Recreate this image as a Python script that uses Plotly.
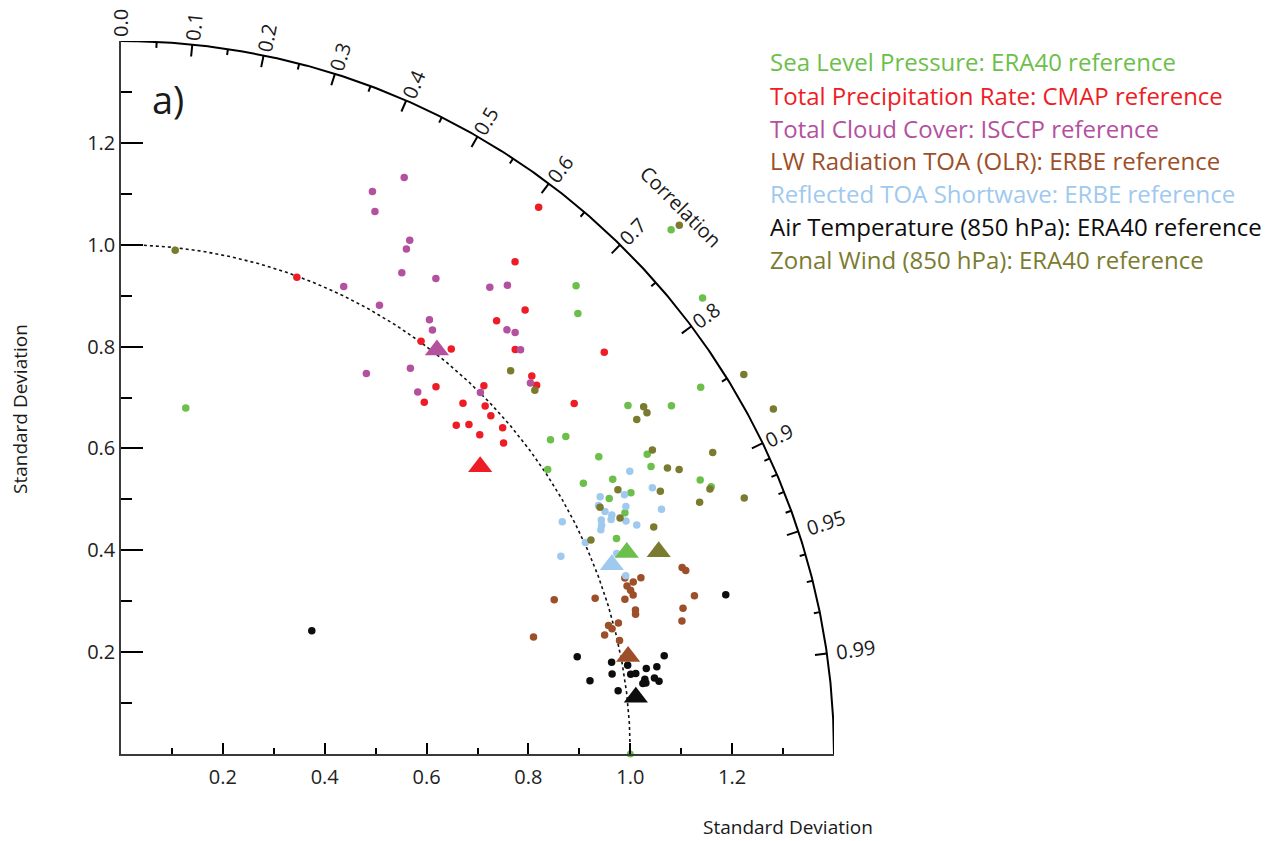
import numpy as np
import plotly.graph_objects as go

# ---------------------------------------------------------------------------
# Taylor diagram: normalised standard deviation vs. correlation with reference
# ---------------------------------------------------------------------------

# Sea Level Pressure (ERA40 reference)
slp_std = [0.691, 1.282, 1.246, 1.492, 1.451, 1.347, 1.208, 1.279, 1.045, 1.073, 1.105,
           1.189, 1.007, 1.184, 1.106, 1.052, 1.258, 1.272, 1.125, 1.082, 1.097, 1.061]
slp_corr = [0.184, 0.697, 0.720, 0.724, 0.787, 0.845, 0.824, 0.845, 0.807, 0.814, 0.849,
            0.869, 0.832, 0.879, 0.873, 0.863, 0.904, 0.911, 0.890, 0.886, 0.902, 0.917]

# Total Precipitation Rate (CMAP reference)
pr_std = [0.998, 1.002, 1.026, 0.950, 0.912, 1.351, 1.238, 1.179, 1.126, 1.109, 1.096, 1.091,
          1.015, 0.962, 0.989, 1.125, 0.984, 0.922, 0.941, 0.986, 0.943, 0.968, 1.234]
pr_corr = [0.346, 0.588, 0.632, 0.651, 0.653, 0.607, 0.625, 0.673, 0.655, 0.698, 0.736, 0.748,
           0.702, 0.698, 0.723, 0.791, 0.738, 0.714, 0.726, 0.760, 0.747, 0.776, 0.769]

# Total Cloud Cover (ISCCP reference)
clt_std = [1.261, 1.210, 1.176, 1.157, 1.139, 1.094, 1.120, 1.017, 1.017, 1.046, 1.033,
           0.889, 0.947, 0.919, 1.168, 1.193, 1.126, 1.133, 1.116, 1.085, 1.001]
clt_corr = [0.441, 0.408, 0.424, 0.490, 0.492, 0.504, 0.552, 0.430, 0.499, 0.579, 0.592,
            0.542, 0.600, 0.634, 0.620, 0.636, 0.673, 0.683, 0.703, 0.741, 0.705]

# LW Radiation TOA (OLR) (ERBE reference)
olr_std = [1.048, 1.078, 1.061, 1.161, 1.166, 1.047, 1.051, 1.053, 1.035, 0.980, 0.903,
           1.168, 1.049, 1.047, 1.140, 1.132, 1.010, 0.990, 0.995, 0.978, 0.842, 1.004]
olr_corr = [0.944, 0.947, 0.948, 0.949, 0.951, 0.949, 0.952, 0.955, 0.956, 0.950, 0.942,
            0.964, 0.963, 0.965, 0.968, 0.973, 0.967, 0.967, 0.969, 0.971, 0.962, 0.975]

# Reflected TOA Shortwave (ERBE reference)
rsw_std = [1.143, 1.167, 1.112, 1.068, 1.104, 1.057, 1.063, 1.165, 1.072, 1.067,
           1.092, 1.049, 0.979, 1.045, 1.108, 1.040, 1.002, 0.947, 1.050, 1.051]
rsw_corr = [0.874, 0.894, 0.889, 0.881, 0.898, 0.887, 0.894, 0.911, 0.899, 0.902,
            0.908, 0.899, 0.885, 0.903, 0.914, 0.906, 0.910, 0.912, 0.927, 0.943]

# Air Temperature 850 hPa (ERA40 reference)
ta_std = [0.446, 1.228, 0.916, 0.980, 1.084, 1.010, 1.045, 1.066, 0.977,
          1.013, 1.023, 1.039, 1.058, 0.932, 1.040, 1.066, 1.034, 0.984]
ta_corr = [0.840, 0.967, 0.978, 0.983, 0.984, 0.985, 0.987, 0.987, 0.987,
           0.988, 0.988, 0.990, 0.990, 0.988, 0.991, 0.991, 0.991, 0.992]

# Zonal Wind 850 hPa (ERA40 reference)
ua_std = [0.995, 1.510, 1.432, 1.449, 1.232, 1.231, 1.207, 1.202, 1.304, 1.211, 1.230,
          1.268, 1.239, 1.178, 1.105, 1.058, 1.084, 1.137, 1.014, 1.323, 1.073, 1.082]
ua_corr = [0.107, 0.726, 0.854, 0.884, 0.833, 0.839, 0.839, 0.868, 0.891, 0.886, 0.891,
           0.912, 0.917, 0.899, 0.883, 0.889, 0.904, 0.920, 0.910, 0.925, 0.713, 0.751]

# Multi-model means (triangles), same order as the legend
mean_std = [1.069, 0.903, 1.007, 1.014, 1.033, 1.017, 1.128]
mean_corr = [0.929, 0.781, 0.616, 0.982, 0.933, 0.994, 0.936]

# Reference point
ref_std, ref_corr = 1.0, 1.0

series_labels = [
    "Sea Level Pressure: ERA40 reference",
    "Total Precipitation Rate: CMAP reference",
    "Total Cloud Cover: ISCCP reference",
    "LW Radiation TOA (OLR): ERBE reference",
    "Reflected TOA Shortwave: ERBE reference",
    "Air Temperature (850 hPa): ERA40 reference",
    "Zonal Wind (850 hPa): ERA40 reference",
]
series_colors = ["#6cbf4a", "#ee1d25", "#b4519f", "#9c4f28", "#9fc9ee", "#0d0d0d", "#7b7b30"]

corr_major = [0.0, 0.1, 0.2, 0.3, 0.4, 0.5, 0.6, 0.7, 0.8, 0.9, 0.95, 0.99]
corr_minor = [0.05, 0.15, 0.25, 0.35, 0.45, 0.55, 0.65, 0.75, 0.85,
              0.91, 0.92, 0.93, 0.94, 0.96, 0.97, 0.98]
std_major = [0.2, 0.4, 0.6, 0.8, 1.0, 1.2]
std_minor = [0.1, 0.3, 0.5, 0.7, 0.9, 1.1, 1.3]

R_MAX = 1.4
FONT = "Open Sans"
W, H = 1281, 841
ML, MR, MT, MB = 121, 447, 41, 87
PW, PH = W - ML - MR, H - MT - MB
PX = PW / R_MAX  # pixels per unit


def polar(std, corr):
    std = np.asarray(std, dtype=float)
    corr = np.asarray(corr, dtype=float)
    return std * corr, std * np.sqrt(1.0 - corr ** 2)


# helpers for placing text in paper coordinates
def px2paper_x(px):
    return (px - ML) / PW


def px2paper_y(py):
    return (H - MB - py) / PH


fig = go.Figure()

# outer correlation arc
th = np.linspace(0, np.pi / 2, 400)
fig.add_trace(go.Scatter(x=R_MAX * np.cos(th), y=R_MAX * np.sin(th), mode="lines",
                         line=dict(color="black", width=2), hoverinfo="skip", cliponaxis=False))

# dotted arc of unit standard deviation
fig.add_trace(go.Scatter(x=np.cos(th), y=np.sin(th), mode="lines",
                         line=dict(color="#111", width=1.6, dash="dot"), hoverinfo="skip"))

# ticks on the correlation arc
tx, ty = [], []
for vals, ln in ((corr_major[1:], 12 / PX), (corr_minor, 6 / PX)):
    for c in vals:
        a = np.arccos(c)
        tx += [R_MAX * np.cos(a), (R_MAX - ln) * np.cos(a), None]
        ty += [R_MAX * np.sin(a), (R_MAX - ln) * np.sin(a), None]
fig.add_trace(go.Scatter(x=tx, y=ty, mode="lines", line=dict(color="black", width=2),
                         hoverinfo="skip", cliponaxis=False))

# model points
groups = [(slp_std, slp_corr), (pr_std, pr_corr), (clt_std, clt_corr), (olr_std, olr_corr),
          (rsw_std, rsw_corr), (ta_std, ta_corr), (ua_std, ua_corr)]
for (s, c), col in zip(groups, series_colors):
    x, y = polar(s, c)
    fig.add_trace(go.Scatter(x=x, y=y, mode="markers", hoverinfo="skip", cliponaxis=False,
                             marker=dict(size=7.5, color=col, line=dict(width=0))))

# reference point on the x axis
rx, ry = polar([ref_std], [ref_corr])
fig.add_trace(go.Scatter(x=rx, y=ry, mode="markers", cliponaxis=False, hoverinfo="skip",
                         marker=dict(size=7, color=series_colors[0])))

# multi-model means
mx, my = polar(mean_std, mean_corr)
fig.add_trace(go.Scatter(x=mx, y=my, mode="markers", hoverinfo="skip", cliponaxis=False,
                         marker=dict(symbol="triangle-up", size=21, color=series_colors,
                                     line=dict(width=0))))

ann = []
# correlation tick labels, written radially outside the arc
for c in corr_major:
    a = np.arccos(c)
    txt = f"{c:.2f}" if c in (0.95, 0.99) else f"{c:.1f}"
    rl = R_MAX + (29 if len(txt) > 3 else 18) / PX
    ann.append(dict(x=rl * np.cos(a) / R_MAX, y=rl * np.sin(a) / R_MAX, xref="paper", yref="paper",
                    text=txt, showarrow=False, textangle=-np.degrees(a),
                    xanchor="center", yanchor="middle",
                    font=dict(family=FONT, size=20, color="#1a1a1a")))


def text_at(px, py, txt, size, angle=0, anchor="center", color="#1a1a1a"):
    ann.append(dict(x=px2paper_x(px), y=px2paper_y(py), xref="paper", yref="paper", text=txt,
                    showarrow=False, textangle=angle, xanchor=anchor, yanchor="middle",
                    font=dict(family=FONT, size=size, color=color)))


text_at(681, 206, "Correlation", 20, angle=45)
text_at(168, 99, "a)", 38)
text_at(788, 827, "Standard Deviation", 19)
text_at(20, 409, "Standard Deviation", 19, angle=-90)

legend_y = [61.7, 95, 128.3, 160.5, 193.5, 226.7, 259]
for lab, col, ly in zip(series_labels, series_colors, legend_y):
    text_at(768, ly, lab, 24, anchor="left", color=col)

axis_common = dict(range=[0, R_MAX], showgrid=False, zeroline=False, showline=True,
                   linecolor="#3a3a3a", linewidth=1.5, ticks="inside", tickcolor="black",
                   tickwidth=2, tickmode="array", tickvals=std_major,
                   ticktext=[f"{v:.1f}" for v in std_major],
                   tickfont=dict(family=FONT, size=20, color="#222"), automargin=False,
                   fixedrange=True)

fig.update_layout(
    template="none",
    width=W, height=H,
    margin=dict(l=ML, r=MR, t=MT, b=MB, pad=0),
    paper_bgcolor="white", plot_bgcolor="white",
    showlegend=False, hovermode=False,
    xaxis=dict(**axis_common, ticklen=11, ticklabelstandoff=4,
               minor=dict(tickvals=std_minor, ticklen=6, tickwidth=2, tickcolor="black", ticks="inside")),
    yaxis=dict(**axis_common, ticklen=22,
               minor=dict(tickvals=std_minor, ticklen=11, tickwidth=2, tickcolor="black", ticks="inside")),
    annotations=ann,
)

fig.write_html("out.html")
